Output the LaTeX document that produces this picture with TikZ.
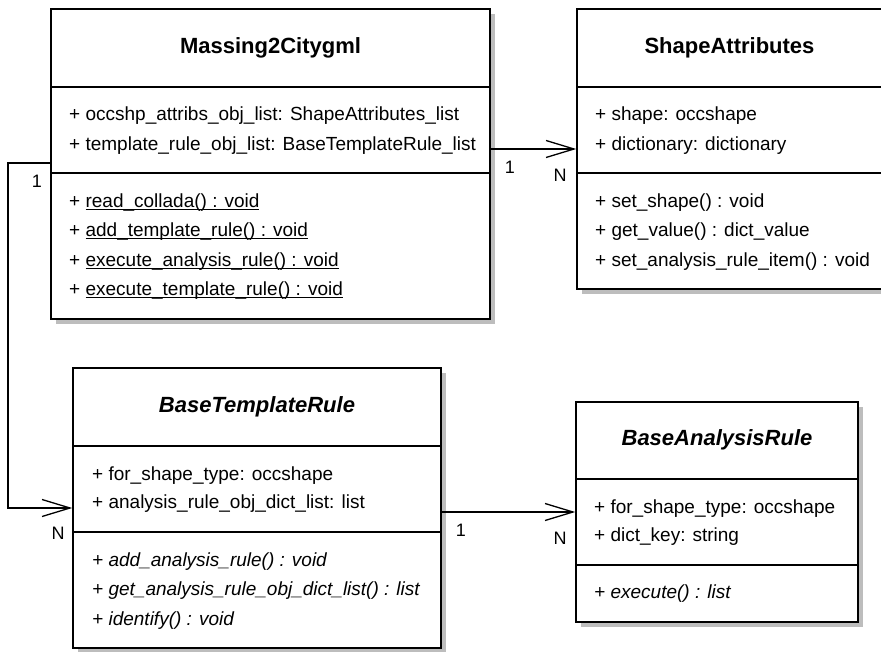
\documentclass[tikz,border=0pt]{standalone}
\usepackage{fontspec}
\setmainfont{Liberation Sans}
\usetikzlibrary{arrows.meta,shadows}

\definecolor{class-shadow}{HTML}{BDBDBD}
\tikzstyle{class-box}=[draw, line width=1.5pt, fill=white, inner sep=0pt,
      drop shadow={shadow xshift=5pt, shadow yshift=-5pt, fill=class-shadow, opacity=1}]
\tikzstyle{class-title}=[inner sep=0pt, font=\fontsize{22}{26}\selectfont\bfseries]
\tikzstyle{abstract-title}=[inner sep=0pt, font=\fontsize{22}{26}\selectfont\bfseries\itshape]
\tikzstyle{member}=[anchor=west, inner sep=0pt, text height=14pt, text depth=4pt,
      font=\fontsize{19}{23}\selectfont]
\tikzstyle{mult}=[inner sep=0pt, font=\fontsize{18}{22}\selectfont]
\tikzstyle{divider}=[line width=1.5pt]
\tikzstyle{assoc}=[line width=1.3pt, -{Straight Barb[length=28pt, width=17pt]}]
\newcommand{\staticop}[1]{\underline{\smash{#1}}}

\begin{document}
\begin{tikzpicture}[x=1pt, y=-1pt]
      \useasboundingbox (0,0) rectangle (881,652);

      % classes
      \node (mc) at (270.5, 164) [class-box, minimum width=439pt, minimum height=310pt] {};
      \node (sa) at (729.5, 149) [class-box, minimum width=305pt, minimum height=280pt] {};
      \node (btr) at (257, 508) [class-box, minimum width=368pt, minimum height=280pt] {};
      \node (bar) at (717, 512) [class-box, minimum width=282pt, minimum height=220pt] {};

      \draw[divider] (mc.west |- 0,87) -- (mc.east |- 0,87);
      \draw[divider] (mc.west |- 0,173) -- (mc.east |- 0,173);
      \draw[divider] (sa.west |- 0,87) -- (sa.east |- 0,87);
      \draw[divider] (sa.west |- 0,173) -- (sa.east |- 0,173);
      \draw[divider] (btr.west |- 0,446) -- (btr.east |- 0,446);
      \draw[divider] (btr.west |- 0,532) -- (btr.east |- 0,532);
      \draw[divider] (bar.west |- 0,479) -- (bar.east |- 0,479);
      \draw[divider] (bar.west |- 0,565) -- (bar.east |- 0,565);

      % Massing2Citygml
      \node (mc-title) at (270.5, 48) [class-title] {Massing2Citygml};
      \node (mc-attr1) at (69, 116) [member] {+ occshp\_attribs\_obj\_list: ShapeAttributes\_list};
      \node (mc-attr2) at (69, 146) [member] {+ template\_rule\_obj\_list: BaseTemplateRule\_list};
      \node (mc-op1) at (69, 203) [member] {+ \staticop{read\_collada() : void}};
      \node (mc-op2) at (69, 232) [member] {+ \staticop{add\_template\_rule() : void}};
      \node (mc-op3) at (69, 262) [member] {+ \staticop{execute\_analysis\_rule() : void}};
      \node (mc-op4) at (69, 291) [member] {+ \staticop{execute\_template\_rule() : void}};

      % ShapeAttributes
      \node (sa-title) at (729.5, 48) [class-title] {ShapeAttributes};
      \node (sa-attr1) at (595, 116) [member] {+ shape: occshape};
      \node (sa-attr2) at (595, 146) [member] {+ dictionary: dictionary};
      \node (sa-op1) at (595, 203) [member] {+ set\_shape() : void};
      \node (sa-op2) at (595, 232) [member] {+ get\_value() : dict\_value};
      \node (sa-op3) at (595, 262) [member] {+ set\_analysis\_rule\_item() : void};

      % BaseTemplateRule
      \node (btr-title) at (257, 407) [abstract-title] {BaseTemplateRule};
      \node (btr-attr1) at (92, 475) [member] {+ for\_shape\_type: occshape};
      \node (btr-attr2) at (92, 503) [member] {+ analysis\_rule\_obj\_dict\_list: list};
      \node (btr-op1) at (92, 561) [member, font=\fontsize{19}{23}\selectfont\itshape] {+ add\_analysis\_rule() : void};
      \node (btr-op2) at (92, 590) [member, font=\fontsize{19}{23}\selectfont\itshape] {+ get\_analysis\_rule\_obj\_dict\_list() : list};
      \node (btr-op3) at (92, 620) [member, font=\fontsize{19}{23}\selectfont\itshape] {+ identify() : void};

      % BaseAnalysisRule
      \node (bar-title) at (717, 440) [abstract-title] {BaseAnalysisRule};
      \node (bar-attr1) at (594, 508) [member] {+ for\_shape\_type: occshape};
      \node (bar-attr2) at (594, 536) [member] {+ dict\_key: string};
      \node (bar-op1) at (594, 593) [member, font=\fontsize{19}{23}\selectfont\itshape] {+ execute() : list};

      % associations
      \coordinate (mc-btr-bend) at (8, 335);
      \draw[assoc] (mc.east |- 0,149) -- (sa.west |- 0,149);
      \draw[assoc] (mc.west |- 0,163) -| (mc-btr-bend) |- (btr.west |- 0,508);
      \draw[assoc] (btr.east |- 0,512) -- (bar.west |- 0,512);

      \node (mc-sa-src) at (510, 167) [mult] {1};
      \node (mc-sa-dst) at (560, 175) [mult] {N};
      \node (mc-btr-src) at (37, 181) [mult] {1};
      \node (mc-btr-dst) at (58, 533) [mult] {N};
      \node (btr-bar-src) at (461, 530) [mult] {1};
      \node (btr-bar-dst) at (560, 538) [mult] {N};
\end{tikzpicture}
\end{document}
